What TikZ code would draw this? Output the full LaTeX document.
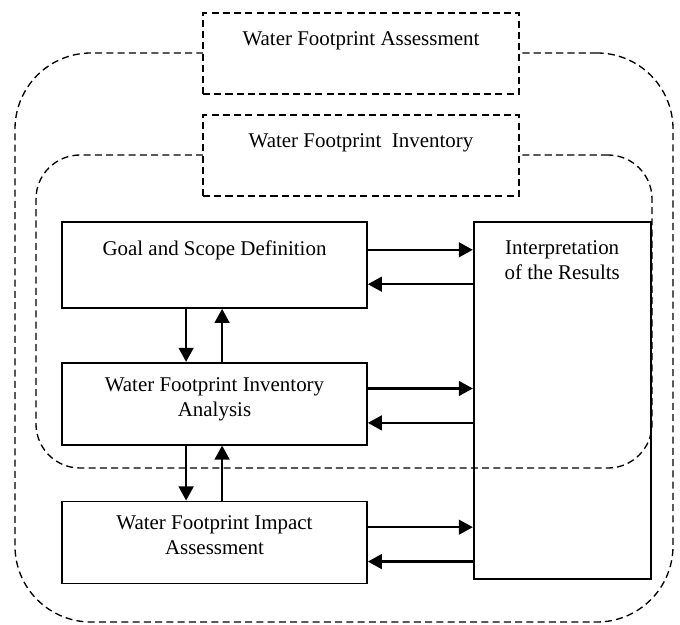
\documentclass[tikz,border=0pt]{standalone}
\usepackage{fontspec}
\setmainfont{Liberation Serif}
\usetikzlibrary{arrows.meta, positioning, calc, backgrounds}

\begin{document}
\begin{tikzpicture}[
    font=\fontsize{14.9pt}{17.8pt}\selectfont,
    block/.style={rectangle, draw, line width=1.2pt, minimum width=7.625cm, minimum height=2.05cm, align=center},
    header/.style={rectangle, draw, fill=white, line width=1.2pt, dash pattern=on 5pt off 3pt, minimum width=7.9cm, minimum height=2.025cm},
    region/.style={rectangle, draw, line width=0.95pt, dash pattern=on 5pt off 3pt},
    toplabel/.style={anchor=north, align=center, yshift=-0.36cm},
    arrow/.style={-{Triangle[length=10pt, width=10.5pt]}, line width=1.6pt}
]
\useasboundingbox (0,0) rectangle (17,-15.625);

% Nodes
\node[block, minimum height=2.15cm, label={[toplabel]north:Goal and Scope Definition}] (goal) at (5.3625,-6.625) {};
\node[block, below=1.325cm of goal, text depth=0.35cm] (inv) {Water Footprint Inventory\\Analysis};
\node[block, below=1.375cm of inv, text depth=0.35cm] (impact) {Water Footprint Impact\\Assessment};
\node[block, minimum width=4.425cm, minimum height=8.925cm, anchor=north west, label={[toplabel]north:Interpretation\\of the Results}] (interp) at ([xshift=2.625cm]goal.north east) {};

\node[header, label={[toplabel]north:Water Footprint Assessment}] (wfa) at (9.025,-1.3375) {};
\node[header, label={[toplabel]north:Water Footprint\ \ Inventory}] (wfi) at (9.025,-3.8875) {};

% Subgraphs
\begin{scope}[on background layer]
    \node[region, rounded corners=1.9cm, minimum width=16.45cm, minimum height=14.225cm] (outer) at (8.6,-8.4375) {};
    \node[region, rounded corners=1.1cm, minimum width=15.4cm, minimum height=7.825cm] (inner) at (8.6,-7.7875) {};
\end{scope}

% Arrows
\draw[arrow] ([yshift=0.38cm]goal.east) -- ([yshift=0.38cm]goal.east -| interp.west);
\draw[arrow] ([yshift=-0.48cm]goal.east -| interp.west) -- ([yshift=-0.48cm]goal.east);
\draw[arrow] ([yshift=0.38cm]inv.east) -- ([yshift=0.38cm]inv.east -| interp.west);
\draw[arrow] ([yshift=-0.48cm]inv.east -| interp.west) -- ([yshift=-0.48cm]inv.east);
\draw[arrow] ([yshift=0.38cm]impact.east) -- ([yshift=0.38cm]impact.east -| interp.west);
\draw[arrow] ([yshift=-0.48cm]impact.east -| interp.west) -- ([yshift=-0.48cm]impact.east);

\draw[arrow] ([xshift=-0.71cm]goal.south) -- ([xshift=-0.71cm]inv.north);
\draw[arrow] ([xshift=0.19cm]inv.north) -- ([xshift=0.19cm]goal.south);
\draw[arrow] ([xshift=-0.71cm]inv.south) -- ([xshift=-0.71cm]impact.north);
\draw[arrow] ([xshift=0.19cm]impact.north) -- ([xshift=0.19cm]inv.south);

\end{tikzpicture}
\end{document}
